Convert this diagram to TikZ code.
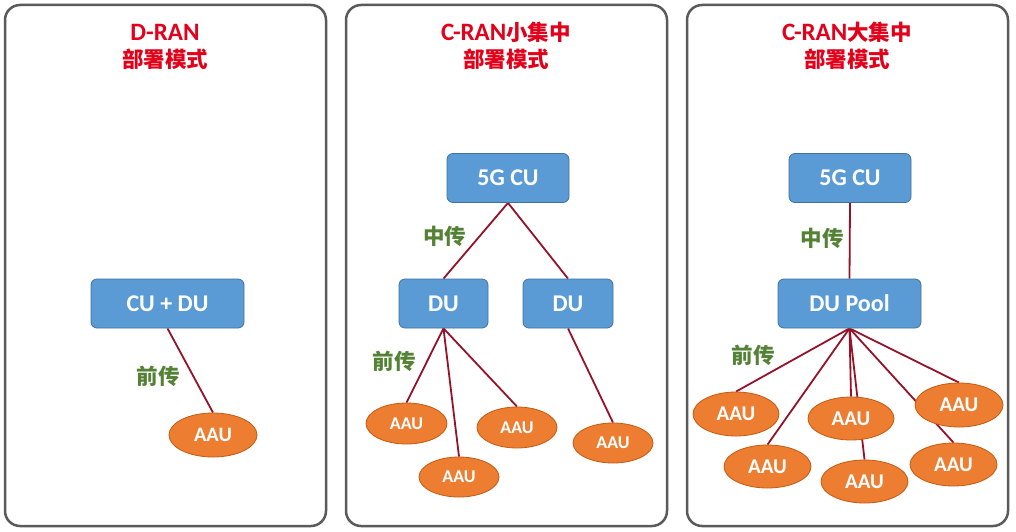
\documentclass[tikz,border=0pt]{standalone}
\usepackage{fontspec}
\setmainfont{Carlito}
\newfontfamily\cjk{Noto Sans CJK SC}
\usetikzlibrary{shapes.geometric}
\definecolor{panelgray}{RGB}{90,90,90}
\definecolor{boxblue}{RGB}{91,155,213}
\definecolor{boxedge}{RGB}{65,113,156}
\definecolor{aauorange}{RGB}{237,125,49}
\definecolor{aauedge}{RGB}{197,90,17}
\definecolor{linkred}{RGB}{150,18,40}
\definecolor{titlered}{RGB}{226,0,26}
\definecolor{labgreen}{RGB}{84,130,53}
\pgfdeclarelayer{bg}
\pgfsetlayers{bg,main}
\tikzset{
  panel/.style={draw=panelgray, line width=2.5pt, rounded corners=15pt},
  unitbox/.style={draw=boxedge, line width=0.8pt, fill=boxblue, rounded corners=6pt, inner sep=0pt,
     text=white, font=\fontsize{24}{28}\selectfont\bfseries},
  aau/.style={ellipse, draw=aauedge, line width=0.8pt, fill=aauorange, inner sep=0pt, text=white},
  link/.style={draw=linkred, line width=1.8pt},
  ttl/.style={anchor=base, text=titlered, inner sep=0pt},
  hop/.style={text=labgreen, inner sep=0pt, font=\fontsize{21.5}{24}\selectfont\cjk\bfseries},
}
\begin{document}
\begin{tikzpicture}[x=1pt,y=-1pt]
\begin{pgfonlayer}{bg}
\fill[white] (0,0) rectangle (1016,532);
\end{pgfonlayer}
\useasboundingbox (0,0) rectangle (1016,532);
% panels
\draw[panel] (5,5) rectangle (326,526);
\draw[panel] (346,5) rectangle (667,526);
\draw[panel] (687,5) rectangle (1008,526);
% titles
\node[ttl, font=\fontsize{25}{28}\selectfont\bfseries] (t1a) at (165,41) {D-RAN};
\node[ttl, font=\fontsize{21.5}{24}\selectfont\cjk\bfseries] (t1b) at (165,68) {部署模式};
\node[ttl, font=\fontsize{25}{28}\selectfont\bfseries] (t2a) at (506,41) {C-RAN{\cjk\fontsize{21.5}{24}\selectfont 小集中}};
\node[ttl, font=\fontsize{21.5}{24}\selectfont\cjk\bfseries] (t2b) at (506,68) {部署模式};
\node[ttl, font=\fontsize{25}{28}\selectfont\bfseries] (t3a) at (847,41) {C-RAN{\cjk\fontsize{21.5}{24}\selectfont 大集中}};
\node[ttl, font=\fontsize{21.5}{24}\selectfont\cjk\bfseries] (t3b) at (847,68) {部署模式};

% panel 1
\node[unitbox, minimum width=153pt, minimum height=49pt] (cudu) at (167.5,303.5) {CU + DU};
\node[aau, minimum width=88pt, minimum height=44pt, font=\fontsize{20.5}{24}\selectfont\bfseries] (a1) at (213,435) {AAU};
\node[hop] (f1) at (158,376) {前传};
\begin{pgfonlayer}{bg}
\draw[link] (cudu.south) -- (a1.north);
\end{pgfonlayer}

% panel 2
\node[unitbox, minimum width=122pt, minimum height=49pt] (cu2) at (508,178) {5G CU};
\node[unitbox, minimum width=89pt, minimum height=49pt] (du2a) at (443.5,303.5) {DU};
\node[unitbox, minimum width=90pt, minimum height=49pt] (du2b) at (568,303.5) {DU};
\node[aau, minimum width=81pt, minimum height=41pt, font=\fontsize{18}{22}\selectfont\bfseries] (a2a) at (406.5,423.5) {AAU};
\node[aau, minimum width=80pt, minimum height=40pt, font=\fontsize{18}{22}\selectfont\bfseries] (a2b) at (459,477) {AAU};
\node[aau, minimum width=80pt, minimum height=41pt, font=\fontsize{18}{22}\selectfont\bfseries] (a2c) at (517,427.5) {AAU};
\node[aau, minimum width=80pt, minimum height=40pt, font=\fontsize{18}{22}\selectfont\bfseries] (a2d) at (613,443) {AAU};
\node[hop] (m2) at (444.5,236) {中传};
\node[hop] (f2) at (394,361) {前传};
\begin{pgfonlayer}{bg}
\draw[link] (cu2.south) -- (du2a.north);
\draw[link] (cu2.south) -- (du2b.north);
\draw[link] (du2a.south) -- (a2a.north);
\draw[link] (du2a.south) -- (a2b.north);
\draw[link] (du2a.south) -- (a2c.north);
\draw[link] (du2b.south) -- (a2d.north);
\end{pgfonlayer}

% panel 3
\node[unitbox, minimum width=122pt, minimum height=49pt] (cu3) at (850,178) {5G CU};
\node[unitbox, minimum width=143pt, minimum height=49pt] (pool) at (849.5,303.5) {DU Pool};
\node[aau, minimum width=86pt, minimum height=44pt, font=\fontsize{21}{24}\selectfont\bfseries] (a3a) at (736,414) {AAU};
\node[aau, minimum width=87pt, minimum height=43pt, font=\fontsize{21}{24}\selectfont\bfseries] (a3b) at (767.5,466.5) {AAU};
\node[aau, minimum width=86pt, minimum height=43pt, font=\fontsize{21}{24}\selectfont\bfseries] (a3c) at (851,418.5) {AAU};
\node[aau, minimum width=87pt, minimum height=43pt, font=\fontsize{21}{24}\selectfont\bfseries] (a3d) at (864.5,481.5) {AAU};
\node[aau, minimum width=88pt, minimum height=44pt, font=\fontsize{21}{24}\selectfont\bfseries] (a3e) at (959,405) {AAU};
\node[aau, minimum width=87pt, minimum height=43pt, font=\fontsize{21}{24}\selectfont\bfseries] (a3f) at (953.5,464.5) {AAU};
\node[hop] (m3) at (822,238) {中传};
\node[hop] (f3) at (753,355) {前传};
\begin{pgfonlayer}{bg}
\draw[link] (cu3.south) -- (pool.north);
\draw[link] (pool.south) -- (a3a.north);
\draw[link] (pool.south) -- (a3b.north);
\draw[link] (pool.south) -- (a3c.north);
\draw[link] (pool.south) -- (a3d.north);
\draw[link] (pool.south) -- (a3e.north);
\draw[link] (pool.south) -- (a3f.north);
\end{pgfonlayer}
\end{tikzpicture}
\end{document}
